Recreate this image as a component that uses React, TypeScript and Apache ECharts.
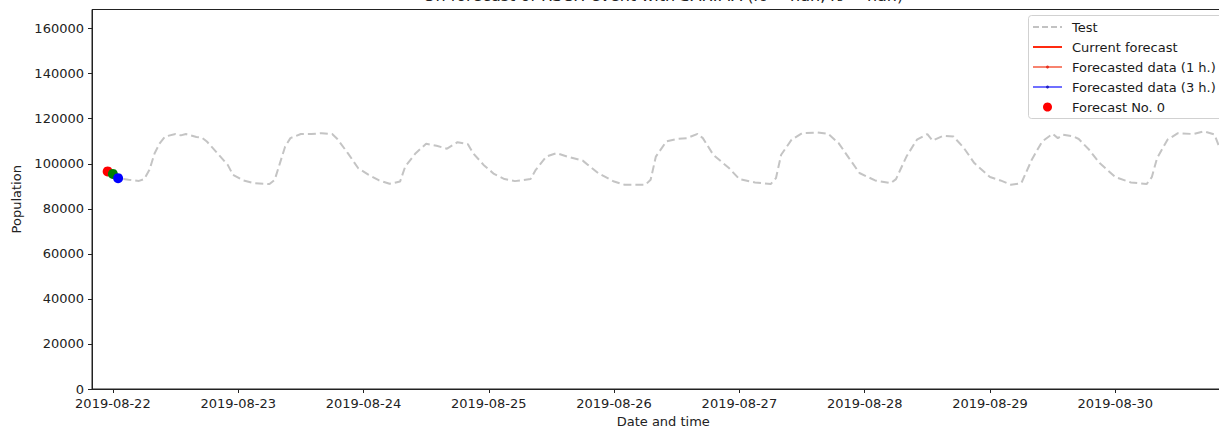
import React, { useEffect, useRef } from "react";
import * as echarts from "echarts";

// ---- data (hours offset from 2019-08-22 00:00 UTC) ----
const testHours = [
  2, 3, 5, 6, 7, 8, 9, 10, 12, 13, 14, 16, 17, 18, 20, 22, 23,
  25, 27, 30, 31, 32, 33, 34, 36, 38, 40, 42, 43, 45, 47,
  49, 51, 53, 55, 56, 58, 60, 62, 64, 66, 68, 69, 71,
  73, 75, 77, 80, 81, 83, 85, 87, 90, 91, 93,
  96, 98, 102, 103, 104, 106, 108, 110, 112, 113, 115, 118,
  120, 123, 126, 127, 128, 130, 132, 135, 137, 139, 141, 143,
  146, 149, 150, 152, 154, 156, 157, 159, 161, 163, 165, 168,
  170, 172, 174, 176, 178, 180, 181, 182, 184, 185, 187, 189,
  192, 195, 198, 199, 200, 202, 204, 207, 209, 211, 212, 213, 214,
];
const testValues = [
  93200, 92900, 92400, 93200, 97300, 104700, 109200, 112100, 113200, 112600, 113200, 111900, 111700, 109900, 104700, 99500, 95100,
  92600, 91400, 91000, 92900, 100300, 107700, 111400, 113200, 113200, 113600, 113200, 111000, 104700, 98000,
  95100, 92600, 91100, 92100, 98800, 104700, 108900, 108000, 106700, 109600, 108700, 104700, 99500,
  95500, 93200, 92300, 93200, 97300, 103200, 104700, 103200, 101400, 99500, 95800,
  92100, 90700, 90700, 92900, 103200, 109900, 111000, 111400, 113300, 111400, 104000, 98100,
  93200, 91700, 91000, 93600, 104000, 110700, 113600, 113900, 113300, 109200, 102500, 95900,
  92600, 91400, 93200, 103200, 110700, 113200, 110300, 112400, 112100, 107000, 100300, 94100,
  92600, 90700, 91400, 101800, 109900, 113300, 111400, 112900, 112100, 111000, 106200, 100300,
  94100, 91700, 91000, 94100, 102500, 110700, 113600, 113200, 114400, 113000, 107000, 102000, 97000,
];
const forecastNo0 = { hour: -1, value: 96600 };
const forecastGreen = { hour: 0, value: 95500 };
const forecastBlue = { hour: 1, value: 93600 };

const dayTickDays = [22, 23, 24, 25, 26, 27, 28, 29, 30, 31];
const yTickValues = [0, 20000, 40000, 60000, 80000, 100000, 120000, 140000, 160000];

const legendLabels = [
  "Test",
  "Current forecast",
  "Forecasted data (1 h.)",
  "Forecasted data (3 h.)",
  "Forecast No. 0",
];

const titleText = "On forecast of RSCH event with SARIMA (r\u2081 = nan, r\u2083 = nan)";

const BASE = Date.UTC(2019, 7, 22, 0, 0, 0);
const H = 3600 * 1000;
const FONT = "DejaVu Sans";

function pad(n: number) {
  return n < 10 ? "0" + n : "" + n;
}

export default function App() {
  const ref = useRef<HTMLDivElement>(null);
  useEffect(() => {
    if (!ref.current) return;
    const chart = echarts.init(ref.current, undefined, { renderer: "svg" });
    const testData = testHours.map((h, i) => [BASE + h * H, testValues[i]]);
    const dayTicks = dayTickDays.map((d) => Date.UTC(2019, 7, d));
    const xMin = Date.UTC(2019, 7, 21, 20, 0);
    const xMax = Date.UTC(2019, 7, 30, 22, 50);

    const lx = 1033;
    const lx2 = 1062;
    const tx = 1072;
    const rowY = [27, 47, 67, 87, 107];
    const legendGraphic: any[] = [
      {
        type: "rect",
        shape: { x: 1028.5, y: 15.5, width: 201, height: 103, r: 3 },
        style: { fill: "#ffffff", stroke: "#cccccc", lineWidth: 1, opacity: 0.9 },
        z: 100,
      },
      {
        type: "line",
        shape: { x1: lx, y1: rowY[0], x2: lx2, y2: rowY[0] },
        style: { stroke: "#c2c2c2", lineWidth: 2, lineDash: [6, 3] },
        z: 101,
      },
      {
        type: "line",
        shape: { x1: lx, y1: rowY[1], x2: lx2, y2: rowY[1] },
        style: { stroke: "#ff2a10", lineWidth: 2 },
        z: 101,
      },
      {
        type: "line",
        shape: { x1: lx, y1: rowY[2], x2: lx2, y2: rowY[2] },
        style: { stroke: "#f7836f", lineWidth: 2 },
        z: 101,
      },
      {
        type: "circle",
        shape: { cx: (lx + lx2) / 2, cy: rowY[2], r: 1.5 },
        style: { fill: "#e8301e" },
        z: 102,
      },
      {
        type: "line",
        shape: { x1: lx, y1: rowY[3], x2: lx2, y2: rowY[3] },
        style: { stroke: "#6f6fff", lineWidth: 2 },
        z: 101,
      },
      {
        type: "circle",
        shape: { cx: (lx + lx2) / 2, cy: rowY[3], r: 1.5 },
        style: { fill: "#2020c0" },
        z: 102,
      },
      {
        type: "circle",
        shape: { cx: (lx + lx2) / 2, cy: rowY[4], r: 4.5 },
        style: { fill: "#ff0000" },
        z: 102,
      },
      ...legendLabels.map((t, i) => ({
        type: "text",
        x: tx,
        y: rowY[i],
        style: {
          text: t,
          fill: "#1a1a1a",
          font: `13px "${FONT}"`,
          verticalAlign: "middle",
          align: "left",
        },
        z: 103,
      })),
    ];

    const option: any = {
      animation: false,
      backgroundColor: "#ffffff",
      title: {
        text: titleText,
        left: 663,
        textAlign: "center",
        top: -13,
        padding: 0,
        textStyle: { fontSize: 16, fontWeight: "normal", color: "#222", fontFamily: FONT },
      },
      grid: {
        left: 92,
        top: 9.5,
        width: 1142.5,
        height: 379.5,
        show: true,
        borderColor: "#222",
        borderWidth: 1,
        backgroundColor: "#ffffff",
        containLabel: false,
        outerBoundsMode: "none",
      },
      xAxis: {
        type: "value",
        min: xMin,
        max: xMax,
        axisLine: { show: true, lineStyle: { color: "#222", width: 1 } },
        axisTick: {
          show: true,
          customValues: dayTicks,
          length: 4,
          lineStyle: { color: "#222", width: 1 },
        },
        axisLabel: {
          customValues: dayTicks,
          margin: 8,
          fontSize: 13,
          color: "#222",
          fontFamily: FONT,
          formatter: (v: number) => {
            const d = new Date(v);
            return `${d.getUTCFullYear()}-${pad(d.getUTCMonth() + 1)}-${pad(d.getUTCDate())}`;
          },
        },
        splitLine: { show: false },
        name: "Date and time",
        nameLocation: "middle",
        nameGap: 25,
        nameTextStyle: { fontSize: 13, color: "#222", fontFamily: FONT },
      },
      yAxis: {
        type: "value",
        min: 0,
        max: 168500,
        axisLine: { show: true, lineStyle: { color: "#222", width: 1 } },
        axisTick: {
          show: true,
          customValues: yTickValues,
          length: 4,
          lineStyle: { color: "#222", width: 1 },
        },
        axisLabel: {
          customValues: yTickValues,
          margin: 8,
          fontSize: 13,
          color: "#222",
          fontFamily: FONT,
          formatter: (v: number) => String(v),
        },
        splitLine: { show: false },
        name: "Population",
        nameLocation: "middle",
        nameGap: 67,
        nameTextStyle: { fontSize: 13, color: "#222", fontFamily: FONT },
      },
      series: [
        {
          name: "Test",
          type: "line",
          data: testData,
          symbol: "none",
          lineStyle: { color: "#c4c4c4", width: 2, type: [8, 4] },
          z: 2,
        },
        {
          name: "Forecast No. 0",
          type: "scatter",
          data: [[BASE + forecastNo0.hour * H, forecastNo0.value]],
          symbolSize: 10,
          itemStyle: { color: "#ff0000", opacity: 1 },
          z: 3,
        },
        {
          name: "Forecast 1",
          type: "scatter",
          data: [[BASE + forecastGreen.hour * H, forecastGreen.value]],
          symbolSize: 10,
          itemStyle: { color: "#008000", opacity: 1 },
          z: 4,
        },
        {
          name: "Forecast 3",
          type: "scatter",
          data: [[BASE + forecastBlue.hour * H, forecastBlue.value]],
          symbolSize: 10,
          itemStyle: { color: "#0000ff", opacity: 1 },
          z: 5,
        },
      ],
      graphic: legendGraphic,
    };
    chart.setOption(option);
    return () => chart.dispose();
  }, []);
  return (
    <div
      style={{ position: "absolute", left: 0, top: 0, width: 1219, height: 428, overflow: "hidden" }}
    >
      <div ref={ref} style={{ width: 1219, height: 428 }} />
    </div>
  );
}
